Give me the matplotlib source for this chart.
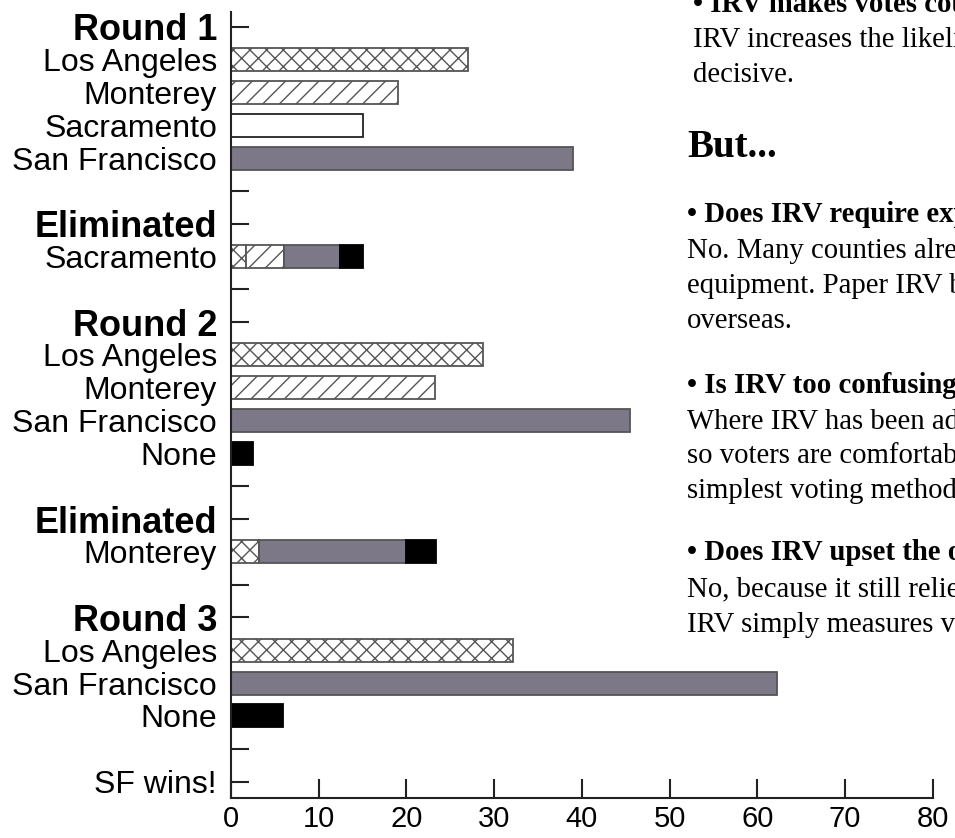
import matplotlib.pyplot as plt

# rows of the chart, top to bottom ("" = empty spacer row)
row_labels = ["Round 1", "Los Angeles", "Monterey", "Sacramento", "San Francisco", "",
              "Eliminated", "Sacramento", "",
              "Round 2", "Los Angeles", "Monterey", "San Francisco", "None", "",
              "Eliminated", "Monterey", "",
              "Round 3", "Los Angeles", "San Francisco", "None", "",
              "SF wins!"]
headings = ["Round 1", "Eliminated", "Round 2", "Round 3"]

# vote shares (%)
round1_names = ["Los Angeles", "Monterey", "Sacramento", "San Francisco"]
round1_votes = [27.0, 19.0, 15.1, 39.0]

elim_sac_names = ["Los Angeles", "Monterey", "San Francisco", "None"]
elim_sac_votes = [1.7, 4.3, 6.4, 2.6]

round2_names = ["Los Angeles", "Monterey", "San Francisco", "None"]
round2_votes = [28.7, 23.3, 45.5, 2.5]

elim_mon_names = ["Los Angeles", "San Francisco", "None"]
elim_mon_votes = [3.2, 16.8, 3.4]

round3_names = ["Los Angeles", "San Francisco", "None"]
round3_votes = [32.1, 62.3, 5.9]

xticks = [0, 10, 20, 30, 40, 50, 60, 70, 80]

# right hand text column (runs off the right edge, as in the original page)
side_text = [
    ("• IRV makes votes count.", "bold"),
    ("IRV increases the likelihood that your vote will be", "normal"),
    ("decisive.", "normal"),
    ("But...", "head"),
    ("• Does IRV require expensive new equipment?", "bold"),
    ("No. Many counties already have compatible voting", "normal"),
    ("equipment. Paper IRV ballots are used widely", "normal"),
    ("overseas.", "normal"),
    ("• Is IRV too confusing?", "bold"),
    ("Where IRV has been adopted, ballots are simple,", "normal"),
    ("so voters are comfortable with what is one of the", "normal"),
    ("simplest voting methods.", "normal"),
    ("• Does IRV upset the one-person, one-vote rule?", "bold"),
    ("No, because it still relies on one vote per voter.", "normal"),
    ("IRV simply measures voter preferences more fully.", "normal"),
]
side_baselines = [11.7, 46.7, 81.7, 156.7, 221.7, 258.3, 293.3, 328,
                  393.3, 429.3, 463.3, 498.3, 560, 596.7, 631.7]

styles = {
    "Los Angeles": dict(color="white", hatch="xx", edgecolor="#555555"),
    "Monterey": dict(color="white", hatch="//", edgecolor="#555555"),
    "Sacramento": dict(color="white", edgecolor="#222222"),
    "San Francisco": dict(color="#7d7888", edgecolor="#555555"),
    "None": dict(color="black", edgecolor="black"),
}

plt.rcParams["hatch.linewidth"] = 1.0
plt.rcParams["font.family"] = ["Liberation Sans", "DejaVu Sans"]

W, H = 955, 838
fig = plt.figure(figsize=(W / 100, H / 100), dpi=100)
ax = fig.add_axes([231 / W, 40 / H, (932.6 - 231) / W, (798 - 12) / H])

bar_h = 0.7


def draw_round(first_row, names, votes):
    for i, (n, v) in enumerate(zip(names, votes)):
        ax.barh(first_row + i, v, height=bar_h, linewidth=1.3, **styles[n])


def draw_stack(row, names, votes):
    left = 0
    for n, v in zip(names, votes):
        ax.barh(row, v, left=left, height=bar_h, linewidth=1.3, **styles[n])
        left += v


draw_round(1, round1_names, round1_votes)
draw_stack(7, elim_sac_names, elim_sac_votes)
draw_round(10, round2_names, round2_votes)
draw_stack(16, elim_mon_names, elim_mon_votes)
draw_round(19, round3_names, round3_votes)

ax.set_xlim(0, 80)
ax.set_ylim(len(row_labels) - 0.5, -0.45)

label_rows = [i for i, s in enumerate(row_labels) if s]
tick_rows = [i for i, s in enumerate(row_labels) if s == "" or s in headings or s == "SF wins!"]
ax.yaxis.remove_overlapping_locs = False
ax.set_yticks(label_rows, [row_labels[i] for i in label_rows])
ax.set_yticks(tick_rows, minor=True)
ax.tick_params(axis="y", which="major", length=0, pad=10, labelsize=23)
ax.tick_params(axis="y", which="minor", direction="in", length=13, width=1.5, color="#222222")
for t in ax.get_yticklabels():
    if t.get_text() in headings:
        t.set_fontweight("bold")
        t.set_fontsize(26)

ax.set_xticks(xticks)
ax.tick_params(axis="x", direction="in", length=14, width=1.5, color="#222222",
               labelsize=21, pad=5)

for s in ["top", "right"]:
    ax.spines[s].set_visible(False)
for s in ["left", "bottom"]:
    ax.spines[s].set_linewidth(1.5)
    ax.spines[s].set_color("#222222")

for (txt, kind), yb in zip(side_text, side_baselines):
    x = 693 if yb < 100 else 687
    if kind == "head":
        fig.text(x / W, 1 - yb / H, txt, fontsize=28, fontweight="bold",
                 family="Liberation Serif", va="baseline")
    else:
        fig.text(x / W, 1 - yb / H, txt, fontsize=20.7, fontweight=kind,
                 family="Liberation Serif", va="baseline")

fig.savefig("out.png", dpi=100)
